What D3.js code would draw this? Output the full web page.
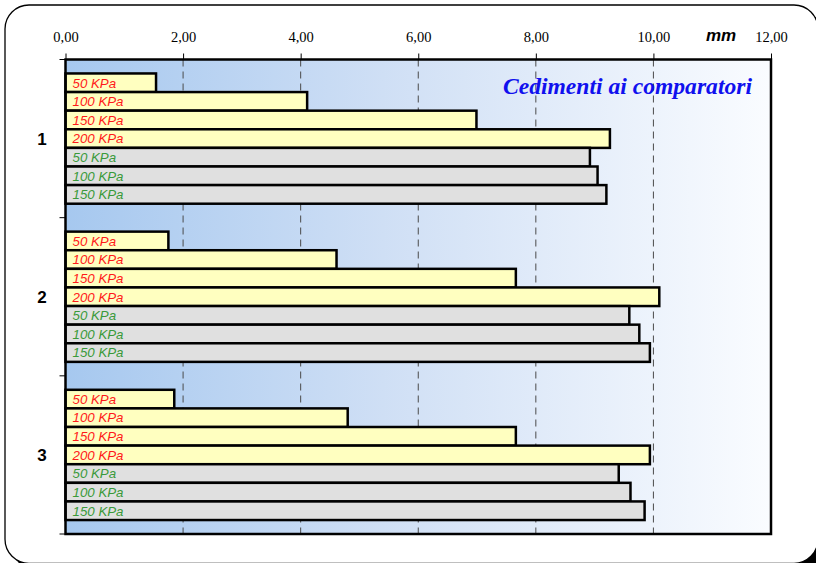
<!DOCTYPE html>
<html>
<head>
<meta charset="utf-8">
<script src="https://cdn.jsdelivr.net/npm/d3@7"></script>
<style>
  html, body { margin: 0; padding: 0; background: #ffffff; }
  svg { display: block; }
</style>
</head>
<body>
<svg id="chart" width="816" height="563"></svg>
<script>
// ---- data ----
const categories = ["1", "2", "3"];
const seriesLabels = ["50 KPa", "100 KPa", "150 KPa", "200 KPa", "50 KPa", "100 KPa", "150 KPa"];
const seriesGroup = ["a", "a", "a", "a", "b", "b", "b"];
const s50a  = [1.54, 1.75, 1.85];
const s100a = [4.11, 4.61, 4.80];
const s150a = [6.99, 7.66, 7.66];
const s200a = [9.26, 10.10, 9.94];
const s50b  = [8.92, 9.59, 9.41];
const s100b = [9.05, 9.76, 9.61];
const s150b = [9.20, 9.94, 9.85];
const seriesValues = [s50a, s100a, s150a, s200a, s50b, s100b, s150b];
const tickValues = [0, 2, 4, 6, 8, 10, 12];
const axisUnit = "mm";
const chartTitle = "Cedimenti ai comparatori";

// ---- layout ----
const svg = d3.select("#chart");
const L = 65.5, R = 771, T = 59.5, B = 534;

const defs = svg.append("defs");
const grad = defs.append("linearGradient").attr("id", "bg").attr("x1", "0").attr("x2", "1").attr("y1", "0").attr("y2", "0");
grad.append("stop").attr("offset", "0%").attr("stop-color", "#a6c8ef");
grad.append("stop").attr("offset", "45%").attr("stop-color", "#cfdff5");
grad.append("stop").attr("offset", "100%").attr("stop-color", "#fafcff");

// outer frame with shadow
svg.append("rect").attr("x", 13).attr("y", 13).attr("width", 813).attr("height", 558.3).attr("rx", 24).attr("fill", "#000");
svg.append("rect").attr("x", 5).attr("y", 5).attr("width", 813).attr("height", 558.3).attr("rx", 24)
  .attr("fill", "#fff").attr("stroke", "#000").attr("stroke-width", 1.3);

const x = d3.scaleLinear().domain([0, 12]).range([L, R]);
const y = d3.scaleBand().domain(categories).range([T, B]).padding(0);
const ySub = d3.scaleBand().domain(d3.range(seriesLabels.length)).range([0, y.bandwidth()])
  .paddingInner(0).paddingOuter(0.75);

// plot background
svg.append("rect").attr("x", L).attr("y", T).attr("width", R - L).attr("height", B - T).attr("fill", "url(#bg)");

// gridlines
svg.append("g").selectAll("line").data(tickValues.filter(d => d > 0 && d < 12)).join("line")
  .attr("x1", d => x(d)).attr("x2", d => x(d)).attr("y1", T).attr("y2", B)
  .attr("stroke", "#4a4a4a").attr("stroke-width", 1).attr("stroke-dasharray", "7,5");

// bars
const rows = [];
categories.forEach((c, ci) => {
  seriesValues.forEach((vals, si) => {
    rows.push({ c, si, v: vals[ci], label: seriesLabels[si], g: seriesGroup[si] });
  });
});
const barG = svg.append("g");
barG.selectAll("rect").data(rows).join("rect")
  .attr("x", x(0))
  .attr("y", d => y(d.c) + ySub(d.si))
  .attr("width", d => x(d.v) - x(0))
  .attr("height", ySub.bandwidth())
  .attr("fill", d => d.g === "a" ? "#ffffc0" : "#e0e0e0")
  .attr("stroke", "#000").attr("stroke-width", 2.5);

barG.selectAll("text").data(rows).join("text")
  .attr("x", x(0) + 7)
  .attr("y", d => y(d.c) + ySub(d.si) + ySub.bandwidth() / 2)
  .attr("dy", "0.36em")
  .attr("font-family", "Liberation Sans, Arial, sans-serif")
  .attr("font-style", "italic")
  .attr("font-size", 13.3)
  .attr("fill", d => d.g === "a" ? "#ff1a1a" : "#3a9a3a")
  .text(d => d.label);

// plot border
svg.append("rect").attr("x", L).attr("y", T).attr("width", R - L).attr("height", B - T)
  .attr("fill", "none").attr("stroke", "#000").attr("stroke-width", 2.5);

// top axis
const xAxis = d3.axisTop(x).tickValues(tickValues)
  .tickFormat(d => d3.format(".2f")(d).replace(".", ","))
  .tickSize(6).tickPadding(12);
const ax = svg.append("g").attr("transform", `translate(0,${T})`).call(xAxis);
ax.select(".domain").remove();
ax.selectAll("line").attr("stroke", "#000");
ax.selectAll("text").attr("font-family", "Liberation Serif, Times New Roman, serif").attr("font-size", 14.5).attr("fill", "#000");

// left category ticks
svg.append("g").selectAll("line").data(categories.map(c => y(c)).concat([B])).join("line")
  .attr("x1", L - 6).attr("x2", L).attr("y1", d => d).attr("y2", d => d)
  .attr("stroke", "#000").attr("stroke-width", 1);

// category labels
svg.append("g").selectAll("text").data(categories).join("text")
  .attr("x", 42).attr("y", d => y(d) + y.bandwidth() / 2).attr("dy", "0.36em")
  .attr("text-anchor", "middle")
  .attr("font-family", "Liberation Sans, Arial, sans-serif").attr("font-weight", "bold").attr("font-size", 17)
  .text(d => d);

// unit label
svg.append("text").attr("x", 721).attr("y", 41).attr("text-anchor", "middle")
  .attr("font-family", "Liberation Sans, Arial, sans-serif").attr("font-weight", "bold").attr("font-style", "italic")
  .attr("font-size", 17).text(axisUnit);

// title
svg.append("text").attr("x", 752).attr("y", 94).attr("text-anchor", "end")
  .attr("font-family", "Liberation Serif, Times New Roman, serif").attr("font-weight", "bold").attr("font-style", "italic")
  .attr("font-size", 23.6).attr("fill", "#1010ee").text(chartTitle);
</script>
</body>
</html>
